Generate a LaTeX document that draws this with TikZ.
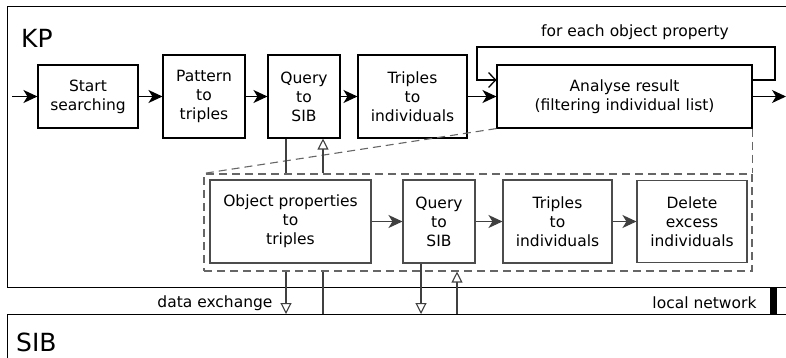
\documentclass[tikz,border=0pt]{standalone}
\usepackage{fontspec}
\setmainfont{DejaVu Sans}
\usetikzlibrary{arrows.meta}

\begin{document}
\begin{tikzpicture}[x=1pt, y=-1pt,
        box/.style={draw, line width=1.1pt, align=center, inner sep=0pt,
            font=\fontsize{15.5}{19}\selectfont},
        subbox/.style={box, draw=black!70},
        flow/.style={line width=1.1pt, -{Stealth[length=14pt, width=13pt, inset=4pt]}},
        link/.style={line width=1.1pt, draw=black!75},
        openlink/.style={link, -{Triangle[open, length=11pt, width=11pt]}},
        callout/.style={line width=1.1pt, draw=black!60, dash pattern=on 8pt off 5pt},
        region/.style={draw, line width=1.3pt, minimum width=813pt, anchor=north west},
        bigtext/.style={font=\fontsize{25}{29}\selectfont, inner sep=0pt, anchor=base west},
        smalltext/.style={font=\fontsize{15.5}{18}\selectfont}]
        \clip (0, 0) rectangle (786, 357);

        % KP and SIB areas
        \node (kp) [region, minimum height=281pt] at (7, 6) {};
        \node (sib) [region, minimum height=100pt] at (7, 314) {};
        \node (kplabel) [bigtext] at (21, 47) {KP};
        \node (siblabel) [bigtext] at (16, 351) {SIB};

        % main search chain
        \node (start) [box, minimum width=100pt, minimum height=63pt] at (88, 96.5) {Start\\searching};
        \node (pattern) [box, minimum width=82pt, minimum height=83pt] at (204, 96.5) {Pattern\\to\\triples};
        \node (query) [box, minimum width=72pt, minimum height=83pt] at (304, 96.5) {Query\\to\\SIB};
        \node (triples) [box, minimum width=109pt, minimum height=83pt] at (412.5, 96.5) {Triples\\to\\individuals};
        \node (analyse) [box, minimum width=255pt, minimum height=63pt] at (624.5, 96.5) {Analyse result\\(filtering individual list)};

        \coordinate (in) at (12, 96.5);
        \coordinate (out) at (786, 96.5);
        \draw [flow] (in) -- (start);
        \draw [flow] (start) -- (pattern);
        \draw [flow] (pattern) -- (query);
        \draw [flow] (query) -- (triples);
        \draw [flow] (triples) -- (analyse);
        \draw [flow] (analyse) -- (out);

        % loop over object properties
        \coordinate (loopR) at (775, 47);
        \coordinate (loopL) at (477, 47);
        \draw [line width=2.6pt, line join=miter, -{Straight Barb[line width=1.3pt, length=7pt, width=15pt]}]
            ([yshift=16.5pt]analyse.east) -| (loopR) -- (loopL) |- ([yshift=16.5pt]analyse.west);
        \node (looplabel) [smalltext] at (635, 32) {for each object property};

        % detail of the analysis step
        \node (group) [callout, minimum width=548pt, minimum height=97pt] at (478, 222.5) {};
        \draw [callout] (analyse.south west) -- (group.north west);
        \draw [callout] (analyse.south east) -- (group.north east);

        \node (objprop) [subbox, minimum width=161pt, minimum height=83pt] at (290.5, 221.5) {Object properties\\to\\triples};
        \node (iquery) [subbox, minimum width=72pt, minimum height=83pt] at (439, 221.5) {Query\\to\\SIB};
        \node (itriples) [subbox, minimum width=109pt, minimum height=83pt] at (557.5, 221.5) {Triples\\to\\individuals};
        \node (delete) [subbox, minimum width=110pt, minimum height=82pt] at (692, 221.5) {Delete\\excess\\individuals};

        \draw [flow, draw=black!75] (objprop) -- (iquery);
        \draw [flow, draw=black!75] (iquery) -- (itriples);
        \draw [flow, draw=black!75] (itriples) -- (delete);

        % data exchange with the SIB
        \coordinate (q1) at (286, 0);
        \coordinate (q2) at (323, 0);
        \coordinate (q3) at (421, 0);
        \coordinate (q4) at (457, 0);
        \draw [link] (query.south -| q1) -- (group.north -| q1);
        \draw [openlink] (group.south -| q1) -- (sib.north -| q1);
        \draw [link] (sib.north -| q2) -- (group.south -| q2);
        \draw [openlink] (group.north -| q2) -- (query.south -| q2);
        \draw [openlink] (iquery.south -| q3) -- (sib.north -| q3);
        \draw [openlink] (sib.north -| q4) -- (group.south -| q4);

        \fill (770, 287) rectangle (777, 314);
        \node (exchange) [smalltext, anchor=east] at (276, 303) {data exchange};
        \node (network) [smalltext, anchor=east] at (760, 303) {local network};
\end{tikzpicture}
\end{document}
